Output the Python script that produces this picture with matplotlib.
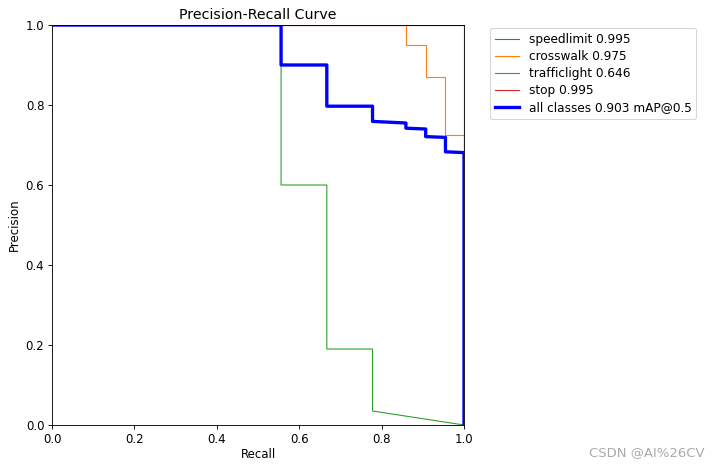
import matplotlib
matplotlib.use("Agg")
import matplotlib.pyplot as plt

# Per-class PR curves (step corners)
speedlimit_r = [0.0, 1.0, 1.0]
speedlimit_p = [1.0, 1.0, 0.0]

crosswalk_r = [0.0, 0.859, 0.859, 0.907, 0.907, 0.955, 0.955, 1.0, 1.0]
crosswalk_p = [1.0, 1.0, 0.95, 0.95, 0.87, 0.87, 0.725, 0.725, 0.0]

trafficlight_r = [0.0, 0.556, 0.556, 0.667, 0.667, 0.778, 0.778, 1.0]
trafficlight_p = [1.0, 1.0, 0.60, 0.60, 0.19, 0.19, 0.035, 0.0]

stop_r = [0.0, 1.0, 1.0]
stop_p = [1.0, 1.0, 0.0]

all_r = [0.0, 0.556, 0.556, 0.667, 0.667, 0.778, 0.778, 0.859, 0.859, 0.907, 0.907, 0.955, 0.955, 1.0, 1.0]
all_p = [1.0, 1.0, 0.90, 0.90, 0.797, 0.797, 0.759, 0.755, 0.742, 0.740, 0.721, 0.719, 0.683, 0.681, 0.0]

labels = ["speedlimit 0.995", "crosswalk 0.975", "trafficlight 0.646", "stop 0.995"]
all_label = "all classes 0.903 mAP@0.5"

plt.rcParams["font.size"] = 10.7

dpi = 79.44
fig = plt.figure(figsize=(715 / dpi, 469 / dpi), dpi=dpi)
ax = fig.add_axes([52 / 715, (469 - 425) / 469, 412 / 715, 400 / 469])

curves = [(speedlimit_r, speedlimit_p), (crosswalk_r, crosswalk_p),
          (trafficlight_r, trafficlight_p), (stop_r, stop_p)]
for (r, p), lab in zip(curves, labels):
    ax.plot(r, p, linewidth=1, label=lab)
ax.plot(all_r, all_p, linewidth=3, color="blue", label=all_label)

ax.set_xlabel("Recall", labelpad=2)
ax.set_ylabel("Precision")
ax.set_xlim(0, 1)
ax.set_ylim(0, 1)
ax.set_title("Precision-Recall Curve", pad=5)
ax.legend(bbox_to_anchor=(1.055, 1), loc="upper left", fontsize=11,
          labelspacing=0.33, borderaxespad=0.25)

fig.text(0.986, 0.022, "CSDN @AI%26CV", ha="right", va="bottom", color="#aaaaaa", fontsize=12)

fig.savefig("out.png", dpi=dpi)
